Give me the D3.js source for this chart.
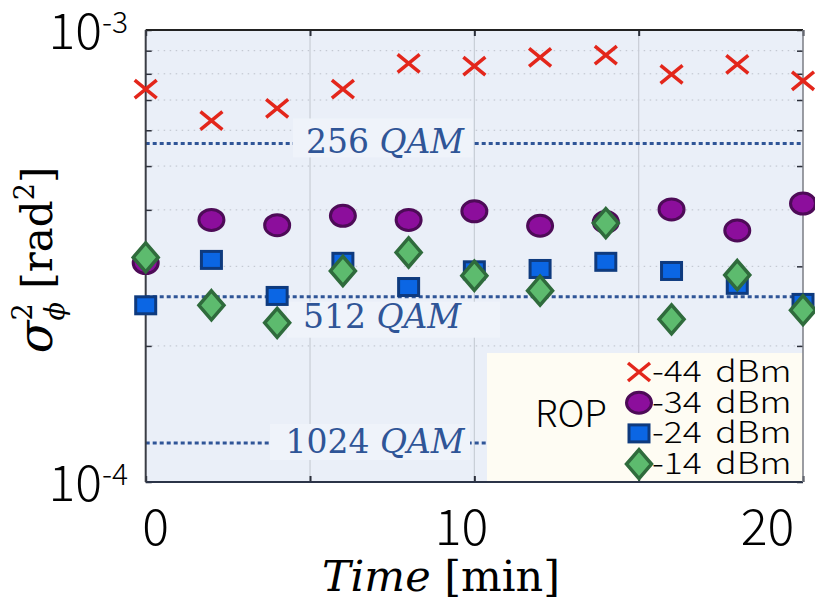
<!DOCTYPE html>
<html><head><meta charset="utf-8">
<script src="https://cdn.jsdelivr.net/npm/d3@7"></script>
<style>body{margin:0;background:#fff} svg{display:block}</style>
</head><body><svg id="c" width="815" height="607"></svg>
<script>
const times = [0,2,4,6,8,10,12,14,16,18,20];
const rop44 = [7.40e-4,6.30e-4,6.71e-4,7.40e-4,8.44e-4,8.32e-4,8.70e-4,8.80e-4,7.98e-4,8.39e-4,7.72e-4];
const rop34 = [3.05e-4,3.80e-4,3.70e-4,3.88e-4,3.80e-4,3.97e-4,3.69e-4,3.76e-4,4.01e-4,3.60e-4,4.13e-4];
const rop24 = [2.46e-4,3.10e-4,2.58e-4,3.07e-4,2.70e-4,2.94e-4,2.96e-4,3.07e-4,2.93e-4,2.73e-4,2.49e-4];
const rop14 = [3.14e-4,2.46e-4,2.25e-4,2.93e-4,3.22e-4,2.86e-4,2.65e-4,3.74e-4,2.29e-4,2.87e-4,2.40e-4];
const qamLevels = [5.61e-4,2.57e-4,1.22e-4];
const qamNames = ["256","512","1024"];
const xTickLabels = [0,10,20];
const xGridTicks = [5,10,15];
const xAllTicks = [0,5,10,15,20];
const yMajor = [1e-3,1e-4];
const yMajorExp = ["-3","-4"];
const yMinor = [2e-4,3e-4,4e-4,5e-4,6e-4,7e-4,8e-4,9e-4];
const legendNames = ["-44 dBm","-34 dBm","-24 dBm","-14 dBm"];

const W=815,H=607, L=145.7, R=803, T=30, B=482;
const SANS = "'Noto Sans CJK JP','Noto Sans',sans-serif";
const SERIF = "'DejaVu Serif',serif";
const svg = d3.select("#c");
const x = d3.scaleLinear().domain([0,20]).range([L,R]);
const xLab = d3.scaleLinear().domain([0,20]).range([155,767]);
const y = d3.scaleLog().domain([1e-4,1e-3]).range([B,T]);

// background
svg.append("rect").attr("x",L).attr("y",T).attr("width",R-L).attr("height",B-T).attr("fill","#EAEFF8");

// grid
svg.append("g").selectAll("line").data(yMinor).join("line")
  .attr("x1",L).attr("x2",R).attr("y1",d=>y(d)).attr("y2",d=>y(d))
  .attr("stroke","#BCC1CA").attr("stroke-width",1).attr("stroke-dasharray","1.5,4.5");
svg.append("g").selectAll("line").data(xGridTicks).join("line")
  .attr("x1",d=>x(d)).attr("x2",d=>x(d)).attr("y1",T).attr("y2",B)
  .attr("stroke","#C8CDD5").attr("stroke-width",1.2);

// QAM lines
svg.append("g").selectAll("line").data(qamLevels).join("line")
  .attr("x1",L).attr("x2",R).attr("y1",d=>y(d)).attr("y2",d=>y(d))
  .attr("stroke","#2F5597").attr("stroke-width",3).attr("stroke-dasharray","4,3");

// QAM label boxes and text
const qamBox = [[293,-25,180,39],[287,5,213,36],[270,-19,200,36]];
const qamTextX = [385,382,375];
const qamTextDy = [10,31,10];
qamLevels.forEach((v,i)=>{
  const b = qamBox[i];
  svg.append("rect").attr("x",b[0]).attr("y",y(v)+b[1]).attr("width",b[2]).attr("height",b[3])
    .attr("fill","#EFF3FA");
  const t = svg.append("text").attr("x",qamTextX[i]).attr("y",y(v)+qamTextDy[i])
    .attr("text-anchor","middle").attr("font-family",SERIF).attr("font-size",33).attr("fill","#2F5597");
  t.append("tspan").text(qamNames[i]+" ");
  t.append("tspan").attr("font-style","italic").text("QAM");
});

// legend box
svg.append("rect").attr("x",487).attr("y",353).attr("width",R-487).attr("height",B-353).attr("fill","#FEFCF3");

// axes / ticks
const axC = "#2B2F3A";
svg.append("g").attr("transform",`translate(${L},0)`).call(d3.axisLeft(y).tickValues(yMinor.concat(yMajor)).tickSize(-6).tickFormat(""))
  .call(g=>{g.select(".domain").remove(); g.selectAll("line").attr("stroke",axC).attr("stroke-width",1.5);});
svg.append("g").attr("transform",`translate(${R},0)`).call(d3.axisRight(y).tickValues(yMinor.concat(yMajor)).tickSize(-6).tickFormat(""))
  .call(g=>{g.select(".domain").remove(); g.selectAll("line").attr("stroke",axC).attr("stroke-width",1.5);});
svg.append("g").attr("transform",`translate(0,${T})`).call(d3.axisTop(x).tickValues(xAllTicks).tickSize(-6).tickFormat(""))
  .call(g=>{g.select(".domain").remove(); g.selectAll("line").attr("stroke",axC).attr("stroke-width",2);});
svg.append("g").attr("transform",`translate(0,${B})`).call(d3.axisBottom(x).tickValues(xAllTicks).tickSize(-6).tickFormat(""))
  .call(g=>{g.select(".domain").remove(); g.selectAll("line").attr("stroke",axC).attr("stroke-width",2);});
// frame
svg.append("line").attr("x1",L).attr("x2",R).attr("y1",T).attr("y2",T).attr("stroke","#222").attr("stroke-width",2);
svg.append("line").attr("x1",L).attr("x2",R).attr("y1",B).attr("y2",B).attr("stroke","#2B3448").attr("stroke-width",2);
svg.append("line").attr("x1",L).attr("x2",L).attr("y1",T).attr("y2",B).attr("stroke","#3A3D45").attr("stroke-width",2);
svg.append("line").attr("x1",R).attr("x2",R).attr("y1",T).attr("y2",B).attr("stroke","#7A7D85").attr("stroke-width",1.5);

// x tick labels
svg.append("g").attr("transform",`translate(0,${B})`)
  .call(d3.axisBottom(xLab).tickValues(xTickLabels).tickSize(0).tickFormat(d3.format("d")))
  .call(g=>{g.select(".domain").remove();
    g.selectAll("text").attr("dy",null).attr("y",63).attr("font-family",SANS).attr("font-weight",300).attr("font-size",50).attr("fill","#000");});

// y tick labels
yMajor.forEach((v,i)=>{
  const t = svg.append("text").attr("x",128).attr("y",y(v)+18.5).attr("text-anchor","end")
    .attr("font-family",SANS).attr("font-weight",300).attr("font-size",50).attr("fill","#000");
  t.append("tspan").text("10");
  t.append("tspan").attr("font-size",30).attr("dy",-16).text(yMajorExp[i]);
});

// axis titles
const xt = svg.append("text").attr("x",441).attr("y",591).attr("text-anchor","middle")
  .attr("font-family",SERIF).attr("font-size",43).attr("fill","#000");
xt.append("tspan").attr("font-style","italic").text("Time");
xt.append("tspan").text(" [min]");

const yl = svg.append("text").attr("transform","translate(52,260) rotate(-90)").attr("text-anchor","middle")
  .attr("font-family",SERIF).attr("font-size",42).attr("fill","#000");
yl.append("tspan").attr("font-style","italic").attr("font-size",48).text("σ");
yl.append("tspan").attr("font-size",27).attr("dy",-20).text("2");
yl.append("tspan").attr("font-size",27).attr("font-style","italic").attr("dx",-17).attr("dy",32).text("ϕ");
yl.append("tspan").attr("dy",-12).text(" [rad");
yl.append("tspan").attr("font-size",27).attr("dy",-18).text("2");
yl.append("tspan").attr("dy",18).text("]");

// markers
const cross = (g)=>g.append("path").attr("d","M-11,-9L11,9M-11,9L11,-9").attr("stroke","#E3261B").attr("stroke-width",3.5).attr("fill","none");
const ell = (g)=>g.append("ellipse").attr("rx",12.5).attr("ry",10.5).attr("fill","#8C0E9C").attr("stroke","#4D0B57").attr("stroke-width",3);
const sq = (g)=>g.append("rect").attr("x",-10).attr("y",-8.5).attr("width",20).attr("height",17).attr("fill","#0B66E4").attr("stroke","#0E3A7E").attr("stroke-width",3);
const dia = (g)=>g.append("path").attr("d","M0,-14.5L12.5,0L0,14.5L-12.5,0Z").attr("fill","#5DBB6E").attr("stroke","#2F6B3C").attr("stroke-width",3.5);
const series = [rop44,rop34,rop24,rop14];
const makers = [cross,ell,sq,dia];
series.forEach((s,k)=>{
  const g = svg.append("g");
  s.forEach((v,i)=>{
    const m = g.append("g").attr("transform",`translate(${x(times[i])},${y(v)})`);
    makers[k](m);
  });
});

// legend
svg.append("text").attr("x",535).attr("y",427).attr("font-family",SANS).attr("font-weight",300).attr("font-size",37).attr("fill","#000").text("ROP");
legendNames.forEach((n,i)=>{
  const cy = 372 + i*30.7;
  const m = svg.append("g").attr("transform",`translate(639,${cy})`);
  makers[i](m);
  svg.append("text").attr("transform",`translate(652,${cy+10}) scale(1.18,1)`)
    .attr("font-family",SANS).attr("font-weight",300).attr("font-size",30).attr("word-spacing",5)
    .attr("fill","#000").text(n);
});
</script></body></html>
